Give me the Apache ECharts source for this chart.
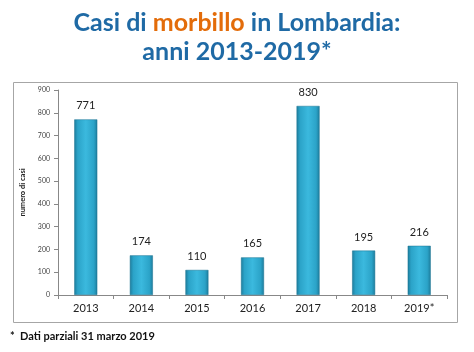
<!DOCTYPE html>
<html>
<head>
<meta charset="utf-8">
<script src="https://cdn.jsdelivr.net/npm/echarts@6/dist/echarts.min.js"></script>
<style>
  html, body { margin: 0; padding: 0; background: #fff; }
  #chart { width: 474px; height: 352px; }
</style>
</head>
<body>
<div id="chart"></div>
<script>
// casi di morbillo per anno
const years = ['2013', '2014', '2015', '2016', '2017', '2018', '2019*'];
const cases = [771, 174, 110, 165, 830, 195, 216];
const yTicks = { min: 0, max: 900, interval: 100 };

const blue = '#1f6aa5';
const orange = '#e36c0a';

const barColor = new echarts.graphic.LinearGradient(0, 0, 1, 0, [
    { offset: 0, color: '#1d7c9c' },
    { offset: 0.15, color: '#2ba3c8' },
    { offset: 0.5, color: '#3bb9de' },
    { offset: 0.85, color: '#2ba3c8' },
    { offset: 1, color: '#1d7c9c' }
]);

const chart = echarts.init(document.getElementById('chart'));
chart.setOption({
    animation: false,
    title: {
        left: 'center',
        top: 3,
        text: '{a|Casi di }{b|morbillo}{a| in Lombardia:}\n{a|anni 2013-2019*}',
        textStyle: {
            rich: {
                a: { fontFamily: 'Lato', fontWeight: 'bold', fontSize: 25, color: blue, lineHeight: 29 },
                b: { fontFamily: 'Lato', fontWeight: 'bold', fontSize: 25, color: orange, lineHeight: 29 }
            }
        }
    },
    graphic: [
        {
            type: 'rect',
            shape: { x: 13.5, y: 82.5, width: 444, height: 240 },
            style: { fill: 'none', stroke: '#a6a6a6', lineWidth: 1 }
        },
        {
            type: 'text',
            left: 10,
            top: 331,
            style: {
                text: '*  Dati parziali 31 marzo 2019',
                font: 'bold 11px Lato',
                fill: '#111'
            }
        }
    ],
    grid: { left: 58, right: 27, top: 90, bottom: 57 },
    xAxis: {
        type: 'category',
        data: years,
        axisLine: { lineStyle: { color: '#888' } },
        axisTick: { show: true, alignWithLabel: false, length: 4, lineStyle: { color: '#888' } },
        axisLabel: { color: '#222', fontSize: 11, fontFamily: 'Lato', margin: 8 }
    },
    yAxis: {
        type: 'value',
        min: yTicks.min,
        max: yTicks.max,
        interval: yTicks.interval,
        name: 'numero di casi',
        nameLocation: 'middle',
        nameRotate: 90,
        nameGap: 24,
        nameTextStyle: { fontSize: 7.5, fontWeight: 'bold', color: '#222', fontFamily: 'Lato' },
        axisLine: { show: true, lineStyle: { color: '#888' } },
        axisTick: { show: true, length: 4, lineStyle: { color: '#888' } },
        axisLabel: { fontSize: 7, color: '#444', fontFamily: 'Lato', margin: 8 },
        splitLine: { show: false }
    },
    series: [{
        type: 'bar',
        data: cases,
        barWidth: 23,
        itemStyle: { color: barColor, borderColor: '#1b7391', borderWidth: 0.5 },
        label: {
            show: true,
            position: 'top',
            distance: 8,
            color: '#222',
            fontSize: 11,
            fontFamily: 'Lato'
        }
    }]
});
</script>
</body>
</html>
